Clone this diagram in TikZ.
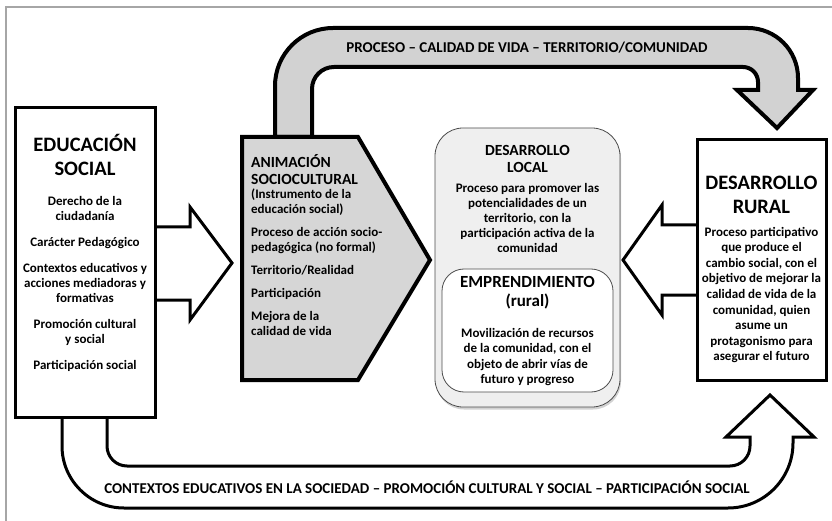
\documentclass[tikz,border=0pt]{standalone}
\usepackage{fontspec}
\setmainfont{Carlito}
\definecolor{arrowgray}{HTML}{D2D2D2}
\definecolor{animgray}{HTML}{D6D6D6}
\definecolor{localgray}{HTML}{EFEFEF}
\tikzset{
  frame/.style={draw=gray!70, line width=1.2pt},
  box/.style={draw=black, line width=3pt, fill=white},
  bigarrow/.style={draw=black, line width=3pt, fill=white, line join=miter},
  toparrow/.style={draw=black, line width=4pt, fill=arrowgray, line join=miter},
  animbox/.style={draw=black, line width=4pt, fill=animgray, line join=miter},
  localbox/.style={draw=black!70, line width=0.8pt, fill=localgray, rounded corners=28pt},
  empbox/.style={draw=black!70, line width=0.8pt, fill=white, rounded corners=22pt},
  bighead/.style={font=\fontsize{20.5}{24.5}\selectfont\bfseries, align=center},
  midhead/.style={font=\fontsize{15.5}{17}\selectfont\bfseries, align=center},
  bodytext/.style={font=\fontsize{13}{15}\selectfont\bfseries, align=center},
  bandtext/.style={font=\fontsize{15}{17}\selectfont\bfseries}
}
\begin{document}
\begin{tikzpicture}[x=1pt, y=-1pt, every node/.style={inner sep=0pt}]
\useasboundingbox (0,0) rectangle (832,521);
\draw[frame] (6,7) rectangle (845,535);

% arrows behind the boxes
\draw[toparrow] (275,137) -- (275,86) arc[start angle=180, end angle=270, radius=58] -- (748,28) arc[start angle=270, end angle=360, radius=50] -- (798,90) -- (813,90) -- (777,128) -- (737,90) -- (758,90) -- (758,82) arc[start angle=0, end angle=-90, radius=15] -- (334,67) arc[start angle=270, end angle=180, radius=22] -- (312,137) -- cycle;
\draw[bigarrow] (62,417) -- (62,446) arc[start angle=180, end angle=90, radius=62] -- (728,508) arc[start angle=90, end angle=0, radius=65] -- (793,437) -- (814,437) -- (770,395) -- (726,437) -- (750,437) -- (750,446) arc[start angle=0, end angle=90, radius=20] -- (127,466) arc[start angle=90, end angle=180, radius=20] -- (107,417) -- cycle;
\draw[bigarrow] (150,227) -- (190,227) -- (190,207) -- (232,263) -- (190,320) -- (190,300) -- (150,300) -- cycle;
\draw[bigarrow] (702,225) -- (662,225) -- (662,205) -- (623,260) -- (662,315) -- (662,295) -- (702,295) -- cycle;

% boxes
\draw[box] (15,108) rectangle (155,417);
\draw[box] (697,140) rectangle (826,380);
\draw[animbox] (242,137) -- (358,137) -- (430,260) -- (358,380) -- (242,380) -- cycle;
\fill[gray!35, rounded corners=28pt] (436,130) rectangle (621,409.5);
\draw[localbox] (435,128) rectangle (620,407);
\draw[empbox] (442,269) rectangle (613,392);

% texts
\node[bandtext] (toplabel) at (527,48) {PROCESO – CALIDAD DE VIDA – TERRITORIO/COMUNIDAD};
\node[bandtext] (bottomlabel) at (427,487) {CONTEXTOS EDUCATIVOS EN LA SOCIEDAD – PROMOCIÓN CULTURAL Y SOCIAL – PARTICIPACIÓN SOCIAL};

\node[bighead] (edutitle) at (85,155) {EDUCACIÓN\\SOCIAL};
\node[bodytext] (edutext) at (85,284) {Derecho de la\\ciudadanía\\[11pt]Carácter Pedagógico\\[11pt]Contextos educativos y\\acciones mediadoras y\\formativas\\[11pt]Promoción cultural\\y social\\[11pt]Participación social};

\node[midhead, align=left, anchor=west] (animtitle) at (251,170) {ANIMACIÓN\\SOCIOCULTURAL};
\node[bodytext, align=left, anchor=west] (animtext) at (251,262) {(Instrumento de la\\educación social)\\[8pt]Proceso de acción socio-\\pedagógica (no formal)\\[8pt]Territorio/Realidad\\[8pt]Participación\\[8pt]Mejora de la\\calidad de vida};

\node[midhead] (localtitle) at (527.5,159) {DESARROLLO\\LOCAL};
\node[bodytext] (localtext) at (527.5,218) {Proceso para promover las\\potencialidades de un\\territorio, con la\\participación activa de la\\comunidad};
\node[midhead, font=\fontsize{17}{19}\selectfont\bfseries] (emptitle) at (527.5,293) {EMPRENDIMIENTO\\(rural)};
\node[bodytext, font=\fontsize{13}{15.6}\selectfont\bfseries] (emptext) at (527.5,357) {Movilización de recursos\\de la comunidad, con el\\objeto de abrir vías de\\futuro y progreso};

\node[bighead] (ruraltitle) at (761.5,195) {DESARROLLO\\RURAL};
\node[bodytext, font=\fontsize{13}{15.6}\selectfont\bfseries] (ruraltext) at (761.5,295) {Proceso participativo\\que produce el\\cambio social, con el\\objetivo de mejorar la\\calidad de vida de la\\comunidad, quien\\asume un\\protagonismo para\\asegurar el futuro};
\end{tikzpicture}
\end{document}
